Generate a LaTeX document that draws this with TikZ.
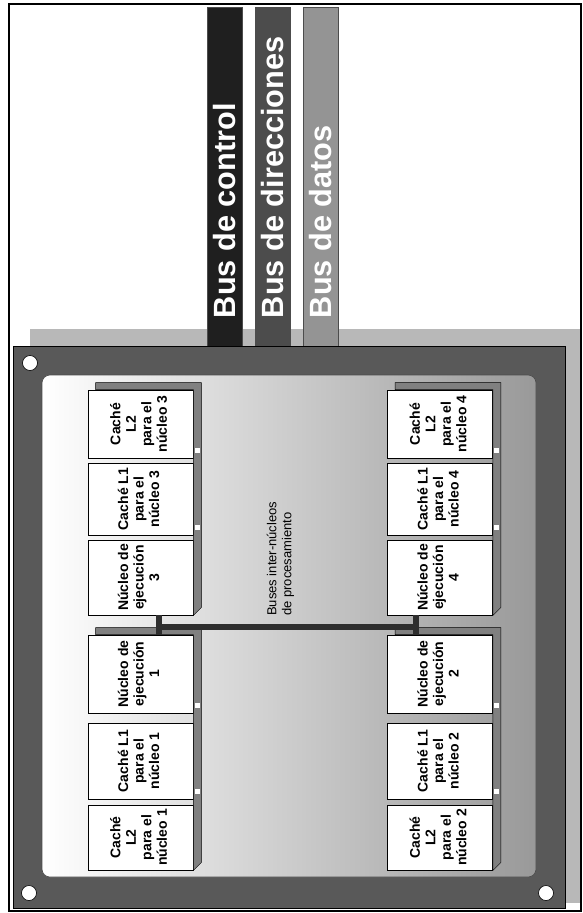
\documentclass[tikz,border=0pt]{standalone}
\usepackage{fontspec}
\setmainfont{Liberation Sans}
\usepackage{graphicx}
\usepackage{tikz}
\usetikzlibrary{positioning,calc}
\newcommand{\vtext}[1]{\rotatebox{90}{\begin{tabular}{@{}c@{}}#1\end{tabular}}}

\begin{document}
\begin{tikzpicture}[
  x=1pt, y=-1pt,
  bar/.style={draw=black!70, line width=0.4pt, minimum width=35pt, minimum height=340pt, inner sep=0pt},
  barlabel/.style={rotate=90, anchor=west, inner sep=0pt, text=white, font=\fontsize{30.7}{32}\selectfont\bfseries},
  box/.style={draw, fill=white, line width=0.8pt, inner sep=0pt, minimum width=105pt, font=\fontsize{14}{15.5}\selectfont\bfseries},
  backing/.style={draw, fill=black!50, line width=0.4pt},
  hole/.style={circle, draw, fill=white, line width=0.6pt, minimum size=15pt, inner sep=0pt},
  ibus/.style={line width=6.5pt, black!82}]
\useasboundingbox (0,0) rectangle (583,913);
\draw[line width=1.6pt] (9,4) rectangle (581,911);
% board shadow and buses leaving it
\fill[black!28] (30,329) rectangle (580,903);
\node[bar, fill=black!88] (bctl) at (224.5,177) {};
\node[bar, fill=black!70] (bdir) at (273,177) {};
\node[bar, fill=black!42] (bdat) at (321,177) {};
\node[barlabel] (tctl) at ($(bctl.south)+(0,-29)$) {Bus de control};
\node[barlabel] (tdir) at ($(bdir.south)+(0,-29)$) {Bus de direcciones};
\node[barlabel] (tdat) at ($(bdat.south)+(0,-29)$) {Bus de datos};
% board
\draw[fill=black!65, line width=0.6pt] (13,346) rectangle (565,908);
\draw[left color=white, right color=black!40, draw=black!70, line width=0.6pt, rounded corners=8pt] (42,375) rectangle (536,877);
\node[hole] (h1) at (30,363) {};
\node[hole] (h2) at (29,893) {};
\node[hole] (h3) at (546,893) {};
% core boxes
\node[box, minimum height=68pt] (l2c3) at (140.5,424) {\vtext{Caché\\L2\\para el\\núcleo 3}};
\node[box, minimum height=72pt] (l1c3) at (140.5,499) {\vtext{Caché L1\\para el\\núcleo 3}};
\node[box, minimum height=75pt] (core3) at (140.5,577.5) {\vtext{Núcleo de\\ejecución\\3}};
\node[box, minimum height=78pt] (core1) at (140.5,674) {\vtext{Núcleo de\\ejecución\\1}};
\node[box, minimum height=76pt] (l1c1) at (140.5,761) {\vtext{Caché L1\\para el\\núcleo 1}};
\node[box, minimum height=65pt] (l2c1) at (140.5,837.5) {\vtext{Caché\\L2\\para el\\núcleo 1}};
\node[box, minimum height=68pt] (l2c4) at (440,424) {\vtext{Caché\\L2\\para el\\núcleo 4}};
\node[box, minimum height=72pt] (l1c4) at (440,499) {\vtext{Caché L1\\para el\\núcleo 4}};
\node[box, minimum height=75pt] (core4) at (440,577.5) {\vtext{Núcleo de\\ejecución\\4}};
\node[box, minimum height=78pt] (core2) at (440,674) {\vtext{Núcleo de\\ejecución\\2}};
\node[box, minimum height=76pt] (l1c2) at (440,761) {\vtext{Caché L1\\para el\\núcleo 2}};
\node[box, minimum height=65pt] (l2c2) at (440,837.5) {\vtext{Caché\\L2\\para el\\núcleo 2}};
% backing strips behind each group
\foreach \a/\b in {l2c3/core3, core1/l2c1, l2c4/core4, core2/l2c2}
  \draw[backing] ($(\a.north east)+(0,-7)$) -- ($(\a.north west)+(8,-7)$) -- ($(\a.north west)+(8,0)$) -- (\a.north east) |- (\b.south east) -- ($(\b.south east)+(8,-8)$) -- ($(\a.north east)+(8,-7)$) -- cycle;
\foreach \n in {l2c3, l1c3, core1, l1c1, l2c4, l1c4, core2, l1c2}
  \fill[white] ($(\n.south east)+(1.5,-10)$) rectangle ++(5,5);
% inter-core bus
\coordinate (busL) at (159,627);
\coordinate (busR) at (416,627);
\draw[ibus] (core3.south -| busL) -- (core1.north -| busL);
\draw[ibus] (core4.south -| busR) -- (core2.north -| busR);
\draw[ibus] (busL) -- (busR);
\node[rotate=90, anchor=north west, align=left, inner sep=0pt, font=\fontsize{13}{15}\selectfont] (ibtxt) at (266.5,616) {Buses inter-núcleos\\de procesamiento};
\end{tikzpicture}
\end{document}
